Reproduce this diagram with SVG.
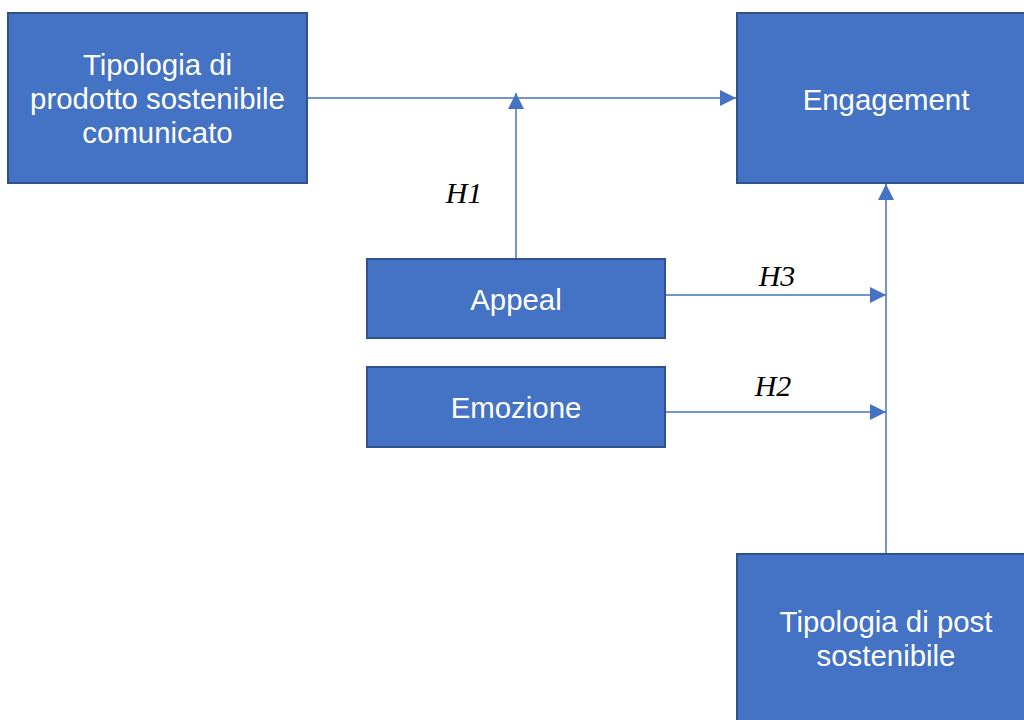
<svg xmlns="http://www.w3.org/2000/svg" width="1024" height="720" viewBox="0 0 1024 720">
<style>
.box{fill:#4472C4;stroke:#2F528F;stroke-width:2}
.lbl{font-family:"Liberation Sans",Arial,sans-serif;font-size:29.4px;fill:#fff;text-anchor:middle}
.h{font-family:"Liberation Serif","Times New Roman",serif;font-style:italic;font-size:30px;fill:#000;text-anchor:middle}
.c{stroke:#4472C4;stroke-width:1.5;fill:none}
</style>
<defs>
<marker id="ah2" viewBox="0 0 16 16" refX="16" refY="8" markerWidth="16" markerHeight="16" markerUnits="userSpaceOnUse" orient="auto">
<path d="M0,0 L16,8 L0,16 z" fill="#4472C4"/>
</marker>
</defs>
<rect width="1024" height="720" fill="#fff"/>
<g id="connectors">
<line class="c" x1="307" y1="98" x2="736" y2="98" marker-end="url(#ah2)"/>
<line class="c" x1="516" y1="259" x2="516" y2="93" marker-end="url(#ah2)"/>
<line class="c" x1="886" y1="554" x2="886" y2="184" marker-end="url(#ah2)"/>
<line class="c" x1="666" y1="295" x2="886" y2="295" marker-end="url(#ah2)"/>
<line class="c" x1="666" y1="412" x2="886" y2="412" marker-end="url(#ah2)"/>
</g>
<g id="n-prodotto">
<rect class="box" x="8" y="13" width="299" height="170"/>
<text class="lbl" x="157.5" y="75">Tipologia di</text>
<text class="lbl" x="157.5" y="109">prodotto sostenibile</text>
<text class="lbl" x="157.5" y="143">comunicato</text>
</g>
<g id="n-engagement">
<rect class="box" x="737" y="13" width="299" height="170"/>
<text class="lbl" x="886" y="110">Engagement</text>
</g>
<g id="n-appeal">
<rect class="box" x="367" y="259" width="298" height="79"/>
<text class="lbl" x="516" y="310">Appeal</text>
</g>
<g id="n-emozione">
<rect class="box" x="367" y="367" width="298" height="80"/>
<text class="lbl" x="516" y="418">Emozione</text>
</g>
<g id="n-post">
<rect class="box" x="737" y="554" width="299" height="180"/>
<text class="lbl" x="886" y="632">Tipologia di post</text>
<text class="lbl" x="886" y="666">sostenibile</text>
</g>
<g id="labels">
<text class="h" x="464" y="203">H1</text>
<text class="h" x="777" y="286">H3</text>
<text class="h" x="773" y="396">H2</text>
</g>
</svg>
